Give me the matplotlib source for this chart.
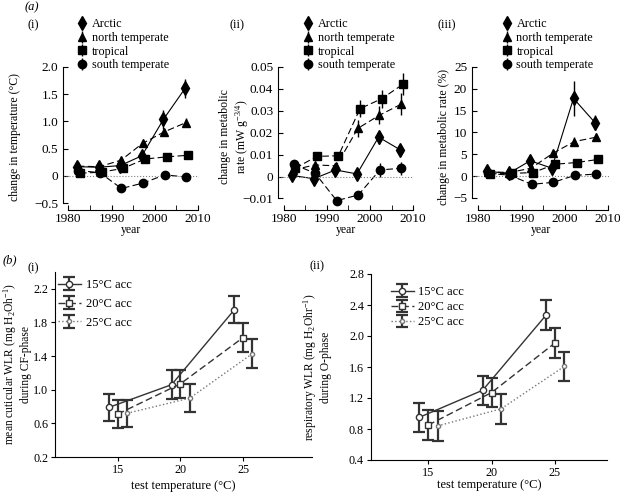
import numpy as np
import matplotlib.pyplot as plt
from matplotlib.ticker import MultipleLocator

plt.rcParams['font.family'] = ['Liberation Serif', 'DejaVu Serif']
plt.rcParams['mathtext.fontset'] = 'custom'
plt.rcParams['mathtext.rm'] = 'Liberation Serif'
plt.rcParams['mathtext.it'] = 'Liberation Serif:italic'
plt.rcParams['font.size'] = 8.5

# =========================
# Data - panel (a)
# =========================

years = [1982, 1987, 1992, 1997, 2002, 2007]
groups = ["Arctic", "north temperate", "tropical", "south temperate"]

temp_arctic = [0.17, 0.16, 0.19, 0.37, 1.04, 1.61]
temp_north = [0.18, 0.17, 0.29, 0.60, 0.81, 0.98]
temp_tropical = [0.05, 0.07, 0.14, 0.31, 0.35, 0.38]
temp_south = [0.10, 0.06, -0.23, -0.13, 0.02, -0.02]

temp_err_arctic = [0.05, 0.05, 0.05, 0.06, 0.17, 0.17]
temp_err_north = [0.05, 0.05, 0.05, 0.05, 0.06, 0.08]
temp_err_tropical = [0.03, 0.03, 0.03, 0.04, 0.04, 0.07]
temp_err_south = [0.03, 0.03, 0.05, 0.04, 0.06, 0.07]

met_arctic = [0.0005, -0.001, 0.003, 0.0012, 0.018, 0.0122]
met_north = [0.003, 0.0053, 0.0049, 0.022, 0.028, 0.033]
met_tropical = [0.0038, 0.0092, 0.0095, 0.031, 0.0355, 0.0422]
met_south = [0.0056, 0.0015, -0.011, -0.0084, 0.003, 0.0038]

met_err_arctic = [0.001, 0.001, 0.001, 0.001, 0.003, 0.0015]
met_err_north = [0.001, 0.001, 0.001, 0.004, 0.004, 0.005]
met_err_tropical = [0.001, 0.001, 0.0015, 0.004, 0.004, 0.005]
met_err_south = [0.001, 0.001, 0.001, 0.001, 0.003, 0.003]

pct_arctic = [1.1, 0.6, 3.5, 1.8, 17.8, 12.2]
pct_north = [1.0, 0.8, 1.8, 5.2, 7.9, 8.9]
pct_tropical = [0.5, 0.6, 0.8, 2.7, 3.1, 3.8]
pct_south = [0.6, 0.2, -1.9, -1.45, 0.15, 0.45]

pct_err_arctic = [0.5, 0.4, 0.8, 1.6, 4.0, 1.7]
pct_err_north = [0.4, 0.4, 0.5, 0.8, 1.0, 0.8]
pct_err_tropical = [0.3, 0.3, 0.4, 0.5, 0.5, 0.5]
pct_err_south = [0.3, 0.3, 0.4, 0.4, 0.4, 0.4]

# =========================
# Data - panel (b)
# =========================

acc_labels = ["15°C acc", "20°C acc", "25°C acc"]
test_temp = [15, 20, 25]

cut_15 = [0.79, 1.06, 1.95]
cut_20 = [0.71, 1.07, 1.62]
cut_25 = [0.72, 0.90, 1.43]
cut_err_15 = [0.16, 0.17, 0.16]
cut_err_20 = [0.17, 0.17, 0.17]
cut_err_25 = [0.16, 0.17, 0.17]

resp_15 = [0.95, 1.30, 2.27]
resp_20 = [0.85, 1.27, 1.91]
resp_25 = [0.84, 1.06, 1.61]
resp_err_15 = [0.19, 0.19, 0.19]
resp_err_20 = [0.19, 0.19, 0.19]
resp_err_25 = [0.19, 0.19, 0.19]

# =========================
# Figure
# =========================

W, H = 620, 492
fig = plt.figure(figsize=(W / 100, H / 100), dpi=100)


def px_axes(left, top, right, bottom):
    return fig.add_axes([left / W, 1 - bottom / H, (right - left) / W, (bottom - top) / H])


series_style = [
    ("d", "-", 0.0),
    ("^", (0, (6, 3)), 0.2),
    ("s", (0, (6, 3)), 0.7),
    ("o", (0, (6, 3)), 0.3),
]


def panel_a(ax, values, errors, lims, ybounds, yticks, ylabel, label_x, legend_x):
    for (marker, ls, dx), vals, errs, name in zip(series_style, values, errors, groups):
        x = np.array(years) + dx
        ax.plot(x, vals, color="black", ls=ls, lw=0.8)
        ax.errorbar(x, vals, yerr=errs, fmt=marker, color="black", ms=6 if marker != "d" else 7,
                    elinewidth=1.0, capsize=0, label=name)
    ax.axhline(0, color="gray", ls=":", lw=0.8)
    ax.set_xlim(*lims[0])
    ax.set_ylim(*lims[1])
    ax.set_yticks(yticks)
    ax.set_xticks([1980, 1990, 2000, 2010])
    ax.xaxis.set_minor_locator(MultipleLocator(5))
    ax.tick_params(which="both", direction="in", length=3.5)
    ax.tick_params(axis="x", pad=2)
    ax.tick_params(labelsize=9.5)
    ax.spines["top"].set_visible(False)
    ax.spines["right"].set_visible(False)
    ax.spines["left"].set_bounds(*ybounds)
    ax.spines["bottom"].set_bounds(1980, 2010)
    ax.spines["bottom"].set_position(("outward", 2.2))
    ax.set_xlabel("year")
    ax.xaxis.set_label_coords(0.5, -0.125)
    ax.set_ylabel(ylabel)
    ax.yaxis.set_label_coords(label_x, 0.5)
    ax.legend(loc="upper left", bbox_to_anchor=(legend_x / W, 1 - 18 / H),
              bbox_transform=fig.transFigure, frameon=False, borderpad=0,
              borderaxespad=0, handlelength=0.8, handletextpad=0.4,
              labelspacing=0.15, fontsize=8.7)


ax1 = px_axes(63, 67, 199, 207)
panel_a(ax1,
        [temp_arctic, temp_north, temp_tropical, temp_south],
        [temp_err_arctic, temp_err_north, temp_err_tropical, temp_err_south],
        ((1978.8, 2010.2), (-0.57, 2.0)), (-0.5, 2.0),
        [-0.5, 0, 0.5, 1.0, 1.5, 2.0],
        "change in temperature (°C)", -0.31, 77)
ax1.set_yticklabels(["\u22120.5", "0", "0.5", "1.0", "1.5", "2.0"])

ax2 = px_axes(278, 67, 414, 207)
panel_a(ax2,
        [met_arctic, met_north, met_tropical, met_south],
        [met_err_arctic, met_err_north, met_err_tropical, met_err_south],
        ((1978.7, 2010.2), (-0.0139, 0.05)), (-0.01, 0.05),
        [-0.01, 0, 0.01, 0.02, 0.03, 0.04, 0.05],
        "change in metabolic\nrate (mW g$^{\\mathrm{-3/4}}$)", -0.2, 303)
ax2.set_yticklabels(["\u22120.01", "0", "0.01", "0.02", "0.03", "0.04", "0.05"])

ax3 = px_axes(472, 67, 609, 207)
panel_a(ax3,
        [pct_arctic, pct_north, pct_tropical, pct_south],
        [pct_err_arctic, pct_err_north, pct_err_tropical, pct_err_south],
        ((1978.55, 2010.2), (-7.1, 25)), (-5, 25),
        [-5, 0, 5, 10, 15, 20, 25],
        "change in metabolic rate (%)", -0.16, 502)

# =========================
# Panel (b)
# =========================

acc_style = [
    ("o", "-", "#333333", -0.7, 4.5),
    ("s", (0, (5, 2.5)), "#333333", 0.0, 5),
    ("o", ":", "#777777", 0.75, 3),
]


def panel_b(ax, values, errors, xlim, ylim, yticks, ylabel, label_xy, legend_pos, spacing):
    for (marker, ls, col, dx, ms), vals, errs, name in zip(acc_style, values, errors, acc_labels):
        x = np.array(test_temp) + dx
        ax.errorbar(x, vals, yerr=errs, fmt=marker, ls=ls, color=col, mfc="white",
                    mec=col, ms=ms, lw=1.0, elinewidth=1.6, ecolor="#333333",
                    capsize=4, capthick=1.6, label=name)
    ax.set_xlim(*xlim)
    ax.set_ylim(*ylim)
    ax.set_yticks(yticks)
    ax.set_xticks(test_temp)
    ax.tick_params(direction="out", length=3, labelsize=8.7)
    ax.tick_params(axis="x", pad=2)
    ax.tick_params(axis="y", pad=2)
    ax.spines["top"].set_visible(False)
    ax.spines["right"].set_visible(False)
    ax.set_xlabel("test temperature (°C)", fontsize=9)
    ax.xaxis.set_label_coords(0.5, label_xy[1])
    ax.set_ylabel(ylabel, fontsize=8.3, linespacing=1.1)
    ax.yaxis.set_label_coords(label_xy[0], 0.5)
    ax.legend(loc="upper left", bbox_to_anchor=(legend_pos[0] / W, 1 - legend_pos[1] / H),
              bbox_transform=fig.transFigure, frameon=False, borderpad=0,
              borderaxespad=0, handlelength=1.8, handletextpad=0.4,
              labelspacing=spacing, fontsize=9)


ax4 = px_axes(55, 272, 312, 457)
panel_b(ax4, [cut_15, cut_20, cut_25], [cut_err_15, cut_err_20, cut_err_25],
        (10, 30.5), (0.2, 2.4), [0.2, 0.6, 1.0, 1.4, 1.8, 2.2],
        "mean cuticular WLR (mg H$_{\\mathrm{2}}$Oh$^{\\mathrm{-1}}$)\nduring CF-phase",
        (-0.088, -0.125), (58, 279), 0.55)

ax5 = px_axes(371, 274, 607, 460)
panel_b(ax5, [resp_15, resp_20, resp_25], [resp_err_15, resp_err_20, resp_err_25],
        (10.5, 29.1), (0.4, 2.8), [0.4, 0.8, 1.2, 1.6, 2.0, 2.4, 2.8],
        "respiratory WLR (mg H$_{\\mathrm{2}}$Ohr$^{\\mathrm{-1}}$)\nduring O-phase",
        (-0.165, -0.1), (391, 286), 0.25)

# =========================
# Panel letters
# =========================

fig.text(25 / W, 1 - 7 / H, "(a)", style="italic", fontsize=9, va="center")
fig.text(28 / W, 1 - 25 / H, "(i)", fontsize=9, va="center")
fig.text(230 / W, 1 - 25 / H, "(ii)", fontsize=9, va="center")
fig.text(437 / W, 1 - 25 / H, "(iii)", fontsize=9, va="center")
fig.text(3 / W, 1 - 260 / H, "(b)", style="italic", fontsize=9, va="center")
fig.text(28 / W, 1 - 268 / H, "(i)", fontsize=9, va="center")
fig.text(310 / W, 1 - 266 / H, "(ii)", fontsize=9, va="center")

fig.savefig("out.png", dpi=100)
